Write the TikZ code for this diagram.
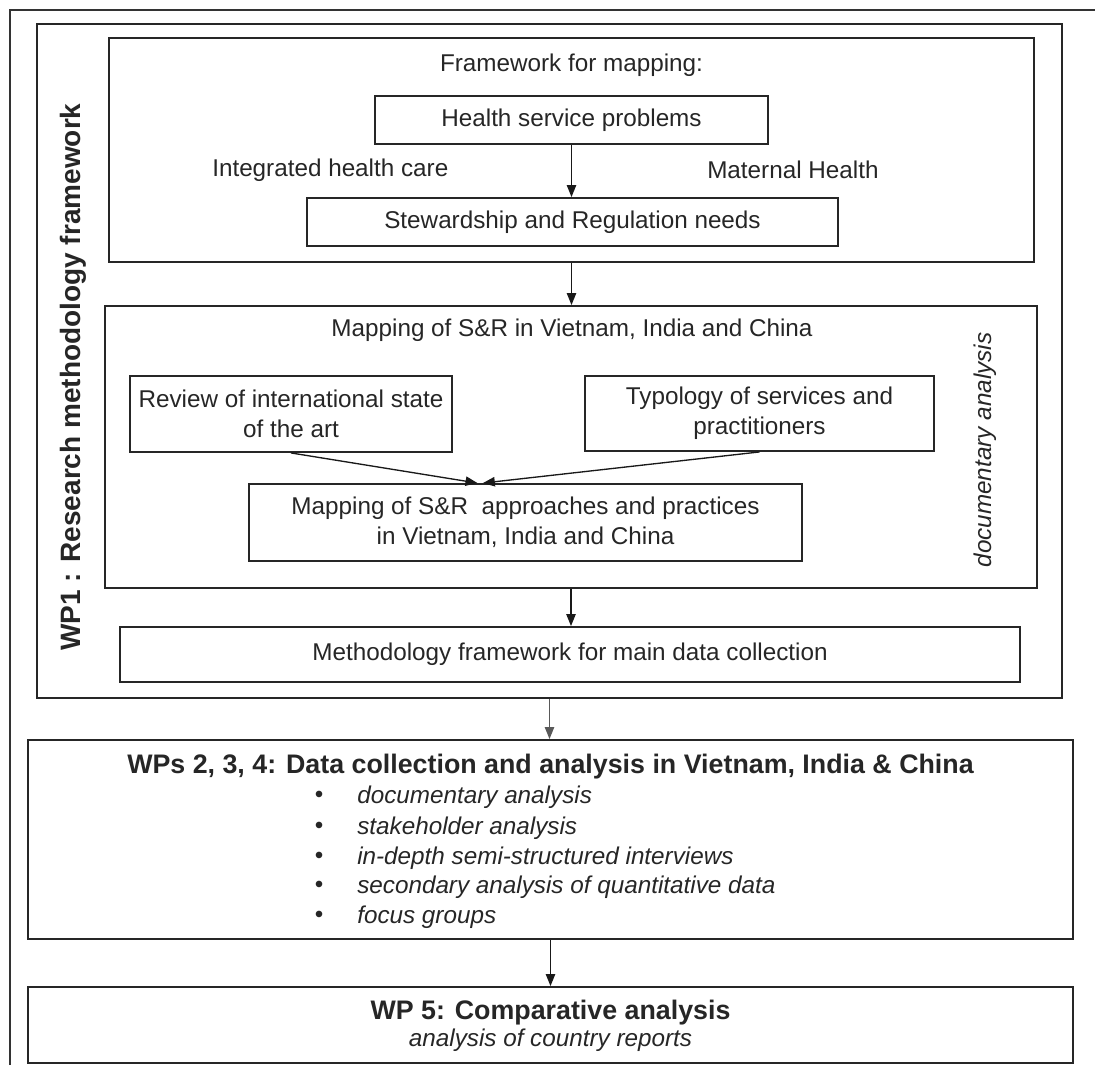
\documentclass[tikz,border=0pt]{standalone}
\usepackage{fontspec}
\setmainfont{Liberation Sans}
\usetikzlibrary{fit,arrows.meta}
\newcommand\txtbody{\fontsize{18.2}{22.5}\selectfont}
\newcommand\txthead{\fontsize{20.1}{24}\selectfont\bfseries}
\begin{document}
\begin{tikzpicture}[x=0.75pt,y=-0.75pt,
  box/.style={draw=black!85, line width=1.4pt, inner sep=0pt},
  lbl/.style={inner sep=0pt, font=\txtbody, text=black!85, align=center},
  head/.style={inner sep=0pt, font=\txthead, text=black!85, align=center},
  arr/.style={draw=black!90, line width=1pt, -{Triangle[length=9pt,width=7pt]}},
  frame/.style={draw=black!80, line width=1.4pt}
]
\useasboundingbox (0,0) rectangle (1095,1065);

% page frame (top and left edges)
\draw[frame] (10,1065) -- (10,10) -- (1095,10);

% WP1 block
\node[box, fit={(37,24) (1062,698)}] (wp1) {};
\node[head, rotate=90, font=\fontsize{21}{24}\selectfont\bfseries] (wp1lbl) at (73,377)
  {WP1 : Research methodology framework};

% framework for mapping
\node[box, fit={(109,38) (1034,262)}] (fw) {};
\node[lbl] (fwtitle) at (571.5,65) {Framework for mapping:};
\node[box, fit={(375,96) (768,144)}] (hsp) {};
\node[lbl] (hsptxt) at (hsp.center) {Health service problems};
\node[lbl, anchor=west] (ihc) at (212,170) {Integrated health care};
\node[lbl, anchor=west] (mh) at (707,170) {Maternal Health};
\node[box, fit={(307,198) (838,246)}] (sr) {};
\node[lbl] (srtxt) at (sr.center) {Stewardship and Regulation needs};

% mapping of S&R
\node[box, fit={(105,306) (1037,588)}] (map) {};
\node[lbl] (maptitle) at (572,330) {Mapping of S\&R in Vietnam, India and China};
\node[lbl, rotate=90, font=\txtbody\itshape] (doc) at (985,450) {documentary analysis};
\node[box, fit={(130,376) (452,452)}] (review) {};
\node[lbl] (reviewtxt) at (review.center) {Review of international state\\of the art};
\node[box, fit={(585,376) (934,451)}] (typo) {};
\node[lbl] (typotxt) at (typo.center) {Typology of services and\\practitioners};
\node[box, fit={(249,484) (802,561)}] (mapin) {};
\node[lbl] (mapintxt) at (mapin.center) {Mapping of S\&R\ \ approaches and practices\\in Vietnam, India and China};

% methodology framework
\node[box, fit={(120,627) (1020,682)}] (meth) {};
\node[lbl] (methtxt) at (meth.center) {Methodology framework for main data collection};

% WPs 2, 3, 4
\node[box, fit={(28,740) (1073,939)}] (wps) {};
\node[head] (wpstitle) at (550.5,767) {WPs 2, 3, 4: Data collection and analysis in Vietnam, India \& China};
\foreach \y/\t [count=\i] in {797/documentary analysis, 828/stakeholder analysis,
    858/in-depth semi-structured interviews, 887/secondary analysis of quantitative data,
    917/focus groups}{
  \node[lbl] (bul\i) at (319,\y) {•};
  \node[lbl, anchor=west, font=\txtbody\itshape] (item\i) at (357,\y) {\t};
}

% WP 5
\node[box, fit={(28,987) (1073,1063)}] (wp5) {};
\node[head] (wp5title) at (550.5,1013) {WP 5: Comparative analysis};
\node[lbl, font=\txtbody\itshape] (wp5sub) at (550.5,1040) {analysis of country reports};

% connectors
\draw[arr] (hsp.south) -- (hsp.south |- sr.north);
\draw[arr] (fw.south) -- (fw.south |- map.north);
\draw[arr] (review.south) -- ([xshift=-36pt]mapin.north);
\draw[arr] (typo.south) -- ([xshift=-32pt]mapin.north);
\draw[arr] (map.south) -- (map.south |- meth.north);
\draw[arr, draw=black!65] (wp1.south) -- (wp1.south |- wps.north);
\draw[arr] (wps.south) -- (wps.south |- wp5.north);
\end{tikzpicture}
\end{document}
